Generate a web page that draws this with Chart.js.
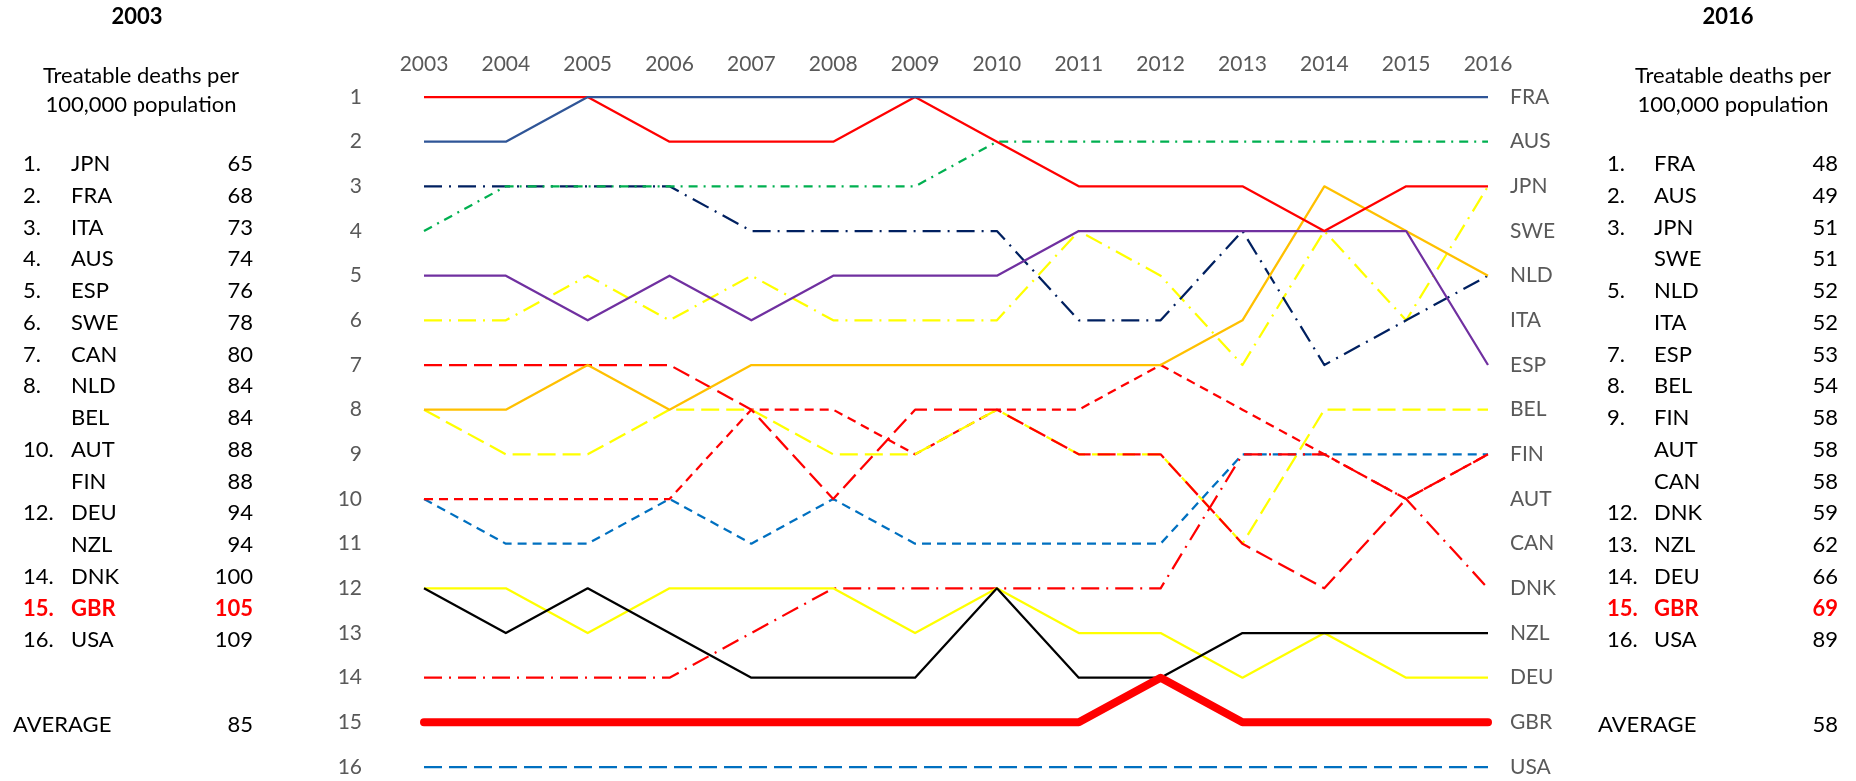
<!DOCTYPE html>
<html lang="en">
<head>
<meta charset="UTF-8">
<title>Treatable deaths ranking 2003-2016</title>
<script src="https://cdn.jsdelivr.net/npm/chart.js"></script>
<style>
  body { margin: 0; background: #fff; font-family: Lato, "Open Sans", sans-serif; }
  #wrap { position: relative; width: 1856px; height: 781px; overflow: hidden; }
  #bump { position: absolute; left: 0; top: 0; }
  .txt { position: absolute; height: 26px; line-height: 26px; font-size: 22px; color: #000; white-space: nowrap; }
  .red { color: #ff0000; font-weight: bold; }
</style>
</head>
<body>
<div id="wrap">
  <canvas id="bump" width="1856" height="781"></canvas>
  <div id="panels"></div>
</div>
<script>
// years along the top
var years = ["2003","2004","2005","2006","2007","2008","2009","2010","2011","2012","2013","2014","2015","2016"];
// labels next to the 2016 end of each row
var endLabels = ["FRA","AUS","JPN","SWE","NLD","ITA","ESP","BEL","FIN","AUT","CAN","DNK","NZL","DEU","GBR","USA"];

// rank of each country per year
var FRA = [2,2,1,1,1,1,1,1,1,1,1,1,1,1];
var JPN = [1,1,1,2,2,2,1,2,3,3,3,4,3,3];
var AUS = [4,3,3,3,3,3,3,2,2,2,2,2,2,2];
var ITA = [3,3,3,3,4,4,4,4,6,6,4,7,6,5];
var ESP = [5,5,6,5,6,5,5,5,4,4,4,4,4,7];
var SWE = [6,6,5,6,5,6,6,6,4,5,7,4,6,3];
var CAN = [7,7,7,7,8,10,8,8,9,9,11,12,10,9];
var NLD = [8,8,7,8,7,7,7,7,7,7,6,3,4,5];
var BEL = [8,9,9,8,8,9,9,8,9,9,11,8,8,8];
var AUT = [10,10,10,10,8,8,9,8,8,7,8,9,10,9];
var FIN = [10,11,11,10,11,10,11,11,11,11,9,9,9,9];
var DEU = [12,12,13,12,12,12,13,12,13,13,14,13,14,14];
var NZL = [12,13,12,13,14,14,14,12,14,14,13,13,13,13];
var DNK = [14,14,14,14,13,12,12,12,12,12,9,9,10,12];
var GBR = [15,15,15,15,15,15,15,15,15,14,15,15,15,15];
var USA = [16,16,16,16,16,16,16,16,16,16,16,16,16,16];

// side tables
var leftRanks = ["1.","2.","3.","4.","5.","6.","7.","8.","","10.","","12.","","14.","15.","16."];
var leftCountries = ["JPN","FRA","ITA","AUS","ESP","SWE","CAN","NLD","BEL","AUT","FIN","DEU","NZL","DNK","GBR","USA"];
var leftValues = [65,68,73,74,76,78,80,84,84,88,88,94,94,100,105,109];
var leftAverage = 85;
var rightRanks = ["1.","2.","3.","","5.","","7.","8.","9.","","","12.","13.","14.","15.","16."];
var rightCountries = ["FRA","AUS","JPN","SWE","NLD","ITA","ESP","BEL","FIN","AUT","CAN","DNK","NZL","DEU","GBR","USA"];
var rightValues = [48,49,51,51,52,52,53,54,58,58,58,59,62,66,69,89];
var rightAverage = 58;

var SHORT = [9,6], LONG = [18,7], DASHDOT = [9,6,2,6], LONGDASHDOT = [18,7,2,7];

function series(label, data, color, dash, width) {
  return {
    label: label, data: data, borderColor: color, backgroundColor: color,
    borderDash: dash || [], borderWidth: width || 2.25,
    pointRadius: 0, tension: 0, fill: false, clip: false,
    borderCapStyle: width ? "round" : "butt", borderJoinStyle: "round"
  };
}

var tickFont = { family: "Lato", size: 21 };

// vertical axes: fixed width, no extra top/bottom padding
function fixWidth(w) {
  return function (s) { s.width = w; s.paddingTop = 0; s.paddingBottom = 0; };
}

var ctx = document.getElementById("bump").getContext("2d");
var chart = new Chart(ctx, {
  type: "line",
  data: {
    labels: years,
    datasets: [
      series("GBR", GBR, "#ff0000", null, 8),
      series("FRA", FRA, "#2f5597"),
      series("JPN", JPN, "#ff0000"),
      series("ESP", ESP, "#7030a0"),
      series("NLD", NLD, "#ffc000"),
      series("NZL", NZL, "#000000"),
      series("DEU", DEU, "#ffff00"),
      series("AUS", AUS, "#00b050", DASHDOT),
      series("ITA", ITA, "#002060", LONGDASHDOT),
      series("SWE", SWE, "#ffff00", LONGDASHDOT),
      series("DNK", DNK, "#ff0000", LONGDASHDOT),
      series("CAN", CAN, "#ff0000", LONG),
      series("BEL", BEL, "#ffff00", LONG),
      series("AUT", AUT, "#ff0000", SHORT),
      series("FIN", FIN, "#0070c0", SHORT),
      series("USA", USA, "#0070c0", LONG)
    ]
  },
  options: {
    responsive: false,
    animation: false,
    layout: { padding: { top: 0, bottom: 14, left: 0, right: 0 } },
    plugins: { legend: { display: false }, tooltip: { enabled: false } },
    scales: {
      x: {
        type: "category",
        position: "top",
        offset: false,
        grid: { display: false, drawTicks: false },
        border: { display: false },
        ticks: { color: "#595959", font: tickFont, padding: 20, maxRotation: 0, autoSkip: false },
        afterFit: function (s) { s.height = 97; }
      },
      y: {
        type: "linear",
        position: "left",
        reverse: true,
        min: 1, max: 16,
        grid: { display: false, drawTicks: false },
        border: { display: false },
        ticks: { stepSize: 1, color: "#595959", font: tickFont, padding: 62 },
        afterFit: fixWidth(424)
      },
      y2: {
        type: "linear",
        position: "right",
        reverse: true,
        min: 1, max: 16,
        grid: { display: false, drawTicks: false },
        border: { display: false },
        ticks: {
          stepSize: 1, color: "#595959", font: tickFont, padding: 22,
          callback: function (v) { return endLabels[v - 1]; }
        },
        afterFit: fixWidth(1856 - 1488)
      }
    }
  }
});

// side tables as plain text
var panels = document.getElementById("panels");
function put(text, x, y, align, cls) {
  var d = document.createElement("div");
  d.className = "txt" + (cls ? " " + cls : "");
  d.textContent = text;
  d.style.top = (y - 13) + "px";
  if (align === "right") { d.style.right = (1856 - x) + "px"; }
  else if (align === "center") { d.style.left = (x - 150) + "px"; d.style.width = "300px"; d.style.textAlign = "center"; }
  else { d.style.left = x + "px"; }
  panels.appendChild(d);
  return d;
}

function table(title, titleX, subX, rankX, nameX, valX, avgX, ranks, names, values, avg) {
  put(title, titleX, 16, "center").style.fontWeight = "bold";
  put("Treatable deaths per", subX, 75, "center");
  put("100,000 population", subX, 104, "center");
  for (var i = 0; i < names.length; i++) {
    var y = 163 + i * 31.75;
    var cls = names[i] === "GBR" ? "red" : "";
    put(ranks[i], rankX, y, "left", cls);
    put(names[i], nameX, y, "left", cls);
    put(String(values[i]), valX, y, "right", cls);
  }
  put("AVERAGE", avgX, 724, "left");
  put(String(avg), valX, 724, "right");
}

table("2003", 137, 141, 23, 71, 253, 13, leftRanks, leftCountries, leftValues, leftAverage);
table("2016", 1728, 1733, 1607, 1654, 1838, 1598, rightRanks, rightCountries, rightValues, rightAverage);
</script>
</body>
</html>
